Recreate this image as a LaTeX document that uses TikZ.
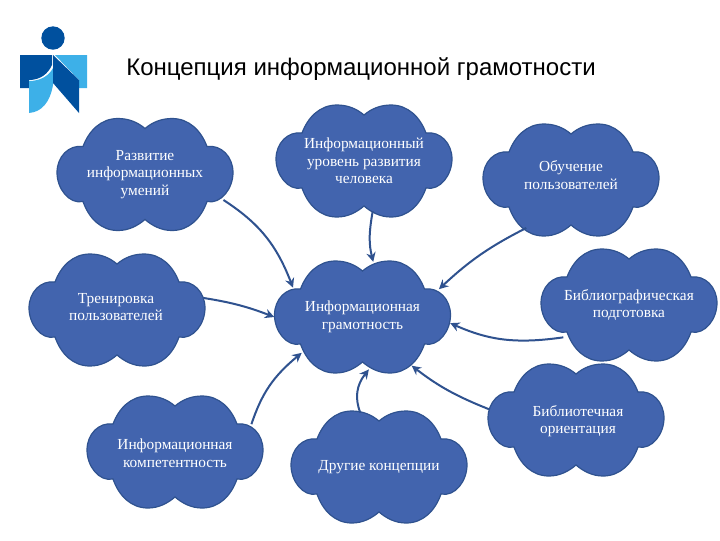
\documentclass[tikz,border=0pt]{standalone}
\usepackage{fontspec}
\setmainfont{Liberation Serif}
\newfontfamily\titlefont{Liberation Sans}
\usetikzlibrary{arrows.meta, shapes.geometric}
\definecolor{cloudblue}{HTML}{4264AE}
\definecolor{cloudedge}{HTML}{2F528F}
\definecolor{logodark}{HTML}{00509E}
\definecolor{logolight}{HTML}{3DB0E8}
\newcommand{\cloudpath}{(-62,-28) .. controls (-56,-44) and (-44,-56) .. (-27,-56)
    .. controls (-16,-56) and (-7,-52) .. (0,-46)
    .. controls (7,-52) and (16,-56) .. (27,-56)
    .. controls (44,-56) and (56,-44) .. (62,-28)
    .. controls (76,-30) and (88,-18) .. (88,-2)
    .. controls (88,14) and (76,30) .. (62,27)
    .. controls (56,44) and (44,56) .. (27,56)
    .. controls (16,56) and (7,51) .. (0,45)
    .. controls (-7,51) and (-16,56) .. (-27,56)
    .. controls (-44,56) and (-56,44) .. (-62,27)
    .. controls (-76,30) and (-88,14) .. (-88,-2)
    .. controls (-88,-18) and (-76,-30) .. cycle}

\begin{document}
\begin{tikzpicture}[
      x=0.75pt, y=-0.75pt,
      idea/.style={ellipse, inner sep=0pt, minimum width=132pt, minimum height=83pt},
      puff/.style={draw=cloudedge, line width=0.9pt, fill=cloudblue},
      idealabel/.style={text=white, align=center, inner sep=0pt,
                   font=\fontsize{11.5}{13.3}\selectfont},
      link/.style={->, draw=cloudedge, line width=1.5pt},
      >={Stealth[length=7pt,width=7pt]},
    ]
    \useasboundingbox (0,0) rectangle (720,540);
    % Logo
    \fill[logolight] (55,55) -- (87,55) -- (87,88) -- (79,88) -- (79,80) -- cycle;
    \fill[logodark] (20,55) -- (52,55) -- (52,65) .. controls (48,74) and (40,80) .. (29,80) -- (29,88) -- (20,88) -- cycle;
    \fill[logolight] (53,68) -- (53,85) .. controls (50,102) and (42,112) .. (29,113) -- (29,81) .. controls (40,81) and (49,76) .. cycle;
    \fill[logodark] (53,55) -- (79,80) -- (79,113) -- (53,83) -- cycle;
    \fill[logodark] (53,38) circle[radius=11.7];
    % Title
    \node[anchor=west, inner sep=0pt, font=\titlefont\fontsize{18}{22}\selectfont] (title) at (126,69) {Концепция информационной грамотности};
    % Clouds
    \node[idea] (core) at (362.5,317) {};
    \node[idea] (skills) at (145,174.5) {};
    \node[idea] (level) at (364,161) {};
    \node[idea] (teach) at (571,180) {};
    \node[idea] (biblio) at (629,305) {};
    \node[idea] (train) at (117,310) {};
    \node[idea] (compet) at (175,452) {};
    \node[idea] (other) at (379,467) {};
    \node[idea] (orient) at (576,420) {};
    \foreach \c in {core,skills,level,teach,biblio,train,compet,other,orient}
      \draw[puff, shift={(\c)}] \cloudpath;
    % Labels
    \node[idealabel] (corelabel) at (core) {Информационная\\грамотность};
    \node[idealabel] (skillslabel) at (skills) {Развитие\\информационных\\умений};
    \node[idealabel] (levellabel) at (level) {Информационный\\уровень развития\\человека};
    \node[idealabel] (teachlabel) at (571,175) {Обучение\\пользователей};
    \node[idealabel] (bibliolabel) at (biblio) {Библиографическая\\подготовка};
    \node[idealabel] (trainlabel) at (116,307) {Тренировка\\пользователей};
    \node[idealabel] (competlabel) at (175,453) {Информационная\\компетентность};
    \node[idealabel] (otherlabel) at (other) {Другие концепции};
    \node[idealabel] (orientlabel) at (578,421) {Библиотечная\\ориентация};

    \draw[link, shorten >=-3pt] (skills.-18) to[bend left=18] (core.155);
    \draw[link, shorten <=-4pt] (level.-82) to[bend right=12] (core.79);
    \draw[link] (teach.-133) to[bend right=8] (core.20);
    \draw[link, shorten <=-4pt] (biblio.205) to[bend left=16] (core.-4);
    \draw[link] (train.8) to[bend left=6] (core.180);
    \draw[link, shorten >=-3pt] (compet.20) to[bend left=16] (core.211);
    \draw[link, shorten >=-3pt] (other.109) to[bend left=30] (core.-86);
    \draw[link, shorten >=2pt] (orient.173) to[bend left=8] (core.-45);
  \end{tikzpicture}
\end{document}
